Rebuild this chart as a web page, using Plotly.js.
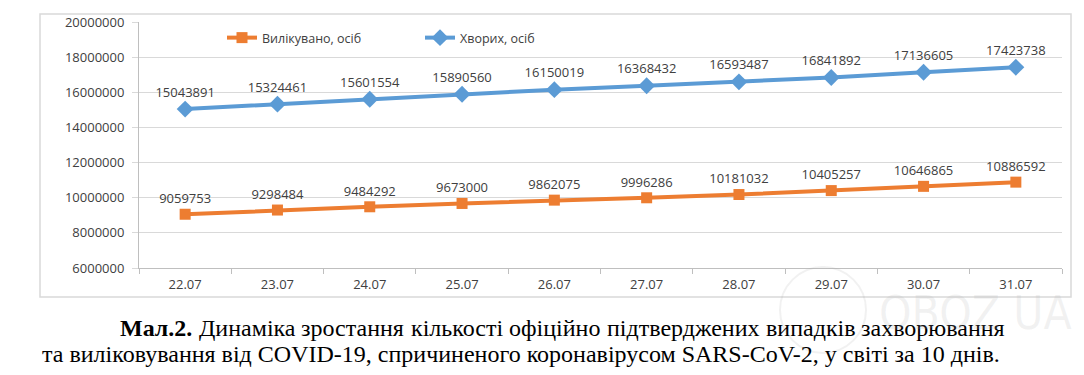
<!DOCTYPE html>
<html><head><meta charset="utf-8">
<script src="https://cdn.plot.ly/plotly-3.0.1.min.js"></script>
<style>html,body{margin:0;padding:0;background:#fff;}</style>
</head><body><div id="chart" style="width:1084px;height:375px;"></div>
<script>
const dates = ['22.07','23.07','24.07','25.07','26.07','27.07','28.07','29.07','30.07','31.07'];
const recovered = [9059753, 9298484, 9484292, 9673000, 9862075, 9996286, 10181032, 10405257, 10646865, 10886592];
const infected = [15043891, 15324461, 15601554, 15890560, 16150019, 16368432, 16593487, 16841892, 17136605, 17423738];
const yTicks = [6000000, 8000000, 10000000, 12000000, 14000000, 16000000, 18000000, 20000000];
const seriesNames = ['Вилікувано, осіб', 'Хворих, осіб'];
const captionLine1 = ['Мал.2.', 'Динаміка', 'зростання', 'кількості', 'офіційно', 'підтверджених', 'випадків', 'захворювання'];
const captionLine2 = 'та виліковування від COVID-19, спричиненого коронавірусом SARS-CoV-2, у світі за 10 днів.';

const W = 1084, H = 375;
const L = 139, R = 1062, T = 22, B = 268;
const px = x => (x - L) / (R - L);
const py = y => (B - y) / (B - T);

const sansFont = 'Open Sans, Noto Sans, sans-serif';
const labelColor = '#404040';

const traces = [
  {
    x: dates, y: recovered, name: seriesNames[0], type: 'scatter',
    mode: 'lines+markers+text', text: recovered.map(String), textposition: 'top center',
    textfont: {family: sansFont, size: 13, color: labelColor},
    line: {color: '#ED7D31', width: 4},
    marker: {symbol: 'square', size: 11, color: '#ED7D31'},
    cliponaxis: false
  },
  {
    x: dates, y: infected, name: seriesNames[1], type: 'scatter',
    mode: 'lines+markers+text', text: infected.map(String), textposition: 'top center',
    textfont: {family: sansFont, size: 13, color: labelColor},
    line: {color: '#5B9BD5', width: 4},
    marker: {symbol: 'diamond', size: 13, color: '#5B9BD5'},
    cliponaxis: false
  }
];

// justified first caption line
const cv = document.createElement('canvas').getContext('2d');
const serif = 'Liberation Serif, Times New Roman, serif';
const capSize = 24;
const widths = captionLine1.map((w, i) => {
  cv.font = (i === 0 ? 'bold ' : '') + capSize + 'px "Liberation Serif"';
  return cv.measureText(w).width;
});
const lineStart = 118, lineEnd = 1003;
const totalW = widths.reduce((a, b) => a + b, 0);
const gap = Math.max(5, (lineEnd - lineStart - totalW) / (captionLine1.length - 1));
const annotations = [];
let cx = lineStart;
captionLine1.forEach((w, i) => {
  annotations.push({
    xref: 'paper', yref: 'paper', x: px(cx), y: py(328), xanchor: 'left', yanchor: 'middle',
    text: i === 0 ? '<b>' + w + '</b>' : w, showarrow: false,
    font: {family: serif, size: capSize, color: '#000'}
  });
  cx += widths[i] + gap;
});
annotations.push({
  xref: 'paper', yref: 'paper', x: px(40), y: py(354), xanchor: 'left', yanchor: 'middle',
  text: captionLine2, showarrow: false,
  font: {family: serif, size: capSize, color: '#000'}
});
// faint watermark
annotations.push({
  xref: 'paper', yref: 'paper', x: px(975), y: py(313), xanchor: 'center', yanchor: 'middle',
  text: 'OBOZ UA', showarrow: false,
  font: {family: 'Liberation Sans Narrow, DejaVu Sans Condensed, sans-serif', size: 46, color: 'rgba(170,170,170,0.16)'}
});

const layout = {
  width: W, height: H,
  margin: {l: L, r: W - R, t: T, b: H - B, pad: 0},
  paper_bgcolor: '#fff', plot_bgcolor: '#fff',
  showlegend: true,
  legend: {
    orientation: 'h', x: px(222), y: py(38), xanchor: 'left', yanchor: 'middle',
    font: {family: sansFont, size: 12.5, color: labelColor},
    entrywidth: 153, itemwidth: 30, bgcolor: 'rgba(0,0,0,0)'
  },
  xaxis: {
    type: 'category', range: [-0.5, 9.5], tickson: 'boundaries',
    ticks: 'outside', ticklen: 5, tickcolor: '#bfbfbf', tickwidth: 1,
    showline: true, linecolor: '#bfbfbf', linewidth: 1, showgrid: false, zeroline: false,
    tickfont: {family: sansFont, size: 13, color: labelColor}, ticklabelstandoff: 4,
    fixedrange: true
  },
  yaxis: {
    range: [6000000, 20000000], tickvals: yTicks, ticktext: yTicks.map(String),
    showgrid: true, gridcolor: '#d9d9d9', gridwidth: 1,
    showline: true, linecolor: '#bfbfbf', linewidth: 1, zeroline: false,
    ticks: 'outside', ticklen: 6, tickcolor: '#d9d9d9',
    tickfont: {family: sansFont, size: 13, color: labelColor}, ticklabelstandoff: 5,
    fixedrange: true
  },
  shapes: [
    {type: 'rect', xref: 'paper', yref: 'paper', x0: px(40), x1: px(1071), y0: py(14), y1: py(297),
     line: {color: '#d9d9d9', width: 1.5}, fillcolor: 'rgba(0,0,0,0)', layer: 'below'},
    {type: 'circle', xref: 'paper', yref: 'paper', x0: px(780), x1: px(866), y0: py(267), y1: py(353),
     line: {color: 'rgba(170,170,170,0.16)', width: 2}, fillcolor: 'rgba(0,0,0,0)', layer: 'above'}
  ],
  annotations: annotations
};

Plotly.newPlot('chart', traces, layout, {staticPlot: true, displayModeBar: false});
</script></body></html>
